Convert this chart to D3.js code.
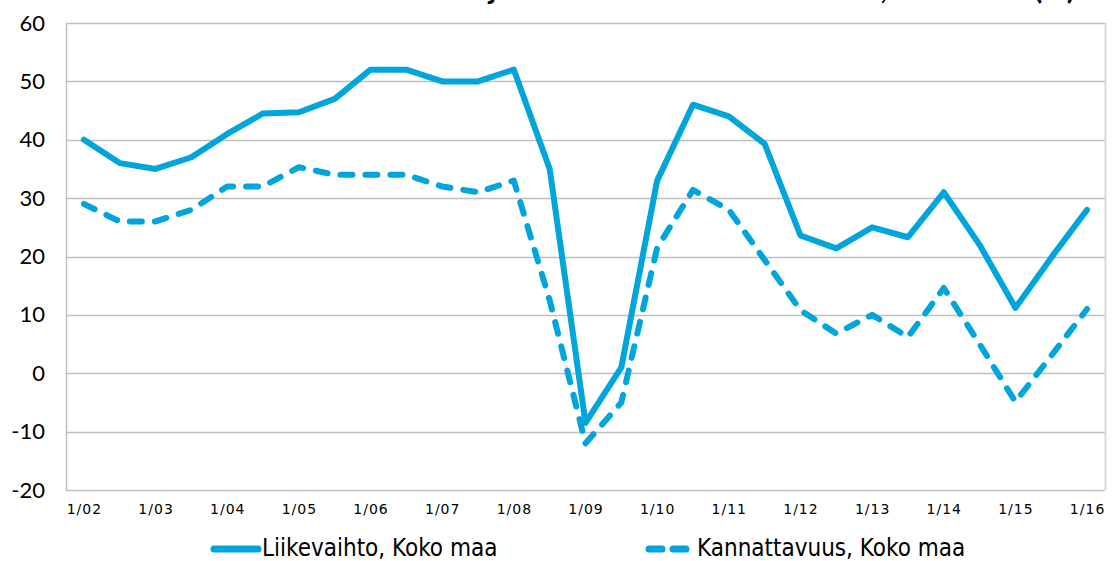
<!DOCTYPE html>
<html>
<head>
<meta charset="utf-8">
<script src="https://cdn.jsdelivr.net/npm/d3@7/dist/d3.min.js"></script>
<style>
  body { margin: 0; background: #fff; }
  svg { display: block; }
</style>
</head>
<body>
<svg id="chart" width="1114" height="561"></svg>
<script>
// half-year periods, 1/02 ... 1/16
const periods = [
  "1/02", "7/02", "1/03", "7/03", "1/04", "7/04", "1/05", "7/05",
  "1/06", "7/06", "1/07", "7/07", "1/08", "7/08", "1/09", "7/09",
  "1/10", "7/10", "1/11", "7/11", "1/12", "7/12", "1/13", "7/13",
  "1/14", "7/14", "1/15", "7/15", "1/16"
];
const liikevaihto = [
  40, 36, 35, 37, 41, 44.5, 44.7, 47,
  52, 52, 50, 50, 52, 35, -8.5, 1,
  33, 46, 44, 39.3, 23.6, 21.4, 25, 23.3,
  31, 22, 11.2, 19.8, 28
];
const kannattavuus = [
  29, 26, 26, 28, 32, 32, 35.3, 34,
  34, 34, 32, 31, 33, 12.5, -12, -5,
  21.5, 31.4, 28, 19.4, 10.8, 6.8, 10, 6.2,
  14.6, 5, -4.9, 3, 11
];
const yTicks = [-20, -10, 0, 10, 20, 30, 40, 50, 60];
const seriesNames = ["Liikevaihto, Koko maa", "Kannattavuus, Koko maa"];
const titleText = "Liikevaihdon ja kannattavuuden saldoluvut, Koko maa (%)";

const blue = "#00a5db";
const gridColor = "#bfbfbf";
const dash = "12,13";

const svg = d3.select("#chart");
const plot = { left: 66, right: 1105, top: 23, bottom: 490 };

const x = d3.scalePoint()
  .domain(periods)
  .range([plot.left, plot.right])
  .padding(0.5);

const y = d3.scaleLinear()
  .domain([-20, 60])
  .range([plot.bottom, plot.top]);

// title, cut off at the top edge of the picture (only descenders show)
svg.append("text")
  .attr("x", 1075)
  .attr("y", -1)
  .attr("text-anchor", "end")
  .attr("font-family", "Lato, sans-serif")
  .attr("font-weight", "bold")
  .attr("font-size", 30)
  .attr("fill", "#000")
  .text(titleText);

// gridlines
svg.append("g")
  .selectAll("line")
  .data(yTicks)
  .join("line")
  .attr("x1", plot.left)
  .attr("x2", plot.right)
  .attr("y1", (d) => Math.round(y(d)) + 0.5)
  .attr("y2", (d) => Math.round(y(d)) + 0.5)
  .attr("stroke", gridColor)
  .attr("stroke-width", 1.5);

// plot frame: left axis and light right border
svg.append("line")
  .attr("x1", plot.left + 0.5).attr("x2", plot.left + 0.5)
  .attr("y1", plot.top).attr("y2", plot.bottom)
  .attr("stroke", gridColor).attr("stroke-width", 1.5);
svg.append("line")
  .attr("x1", plot.right + 0.5).attr("x2", plot.right + 0.5)
  .attr("y1", plot.top).attr("y2", plot.bottom)
  .attr("stroke", "#d9d9d9").attr("stroke-width", 2);

// y axis labels (plain hyphen for negatives, as in the original)
const yAxis = svg.append("g")
  .attr("transform", `translate(${plot.left},0)`)
  .call(d3.axisLeft(y)
    .tickValues(yTicks)
    .tickFormat((d) => String(d))
    .tickSize(0)
    .tickPadding(21));
yAxis.select(".domain").remove();
yAxis.selectAll("text")
  .attr("font-family", "Lato, sans-serif")
  .attr("font-size", 22)
  .attr("fill", "#000");

// x axis labels, one per year
const xAxis = svg.append("g")
  .attr("transform", `translate(0,${plot.bottom})`)
  .call(d3.axisBottom(x)
    .tickValues(periods.filter((p) => p.startsWith("1/")))
    .tickSize(0)
    .tickPadding(14));
xAxis.select(".domain").remove();
xAxis.selectAll("text")
  .attr("font-family", "'DejaVu Sans', sans-serif")
  .attr("font-size", 14)
  .attr("letter-spacing", 1)
  .attr("fill", "#000");

// lines
const line = d3.line()
  .x((d, i) => x(periods[i]))
  .y((d) => y(d));

svg.append("path")
  .datum(kannattavuus)
  .attr("d", line)
  .attr("fill", "none")
  .attr("stroke", blue)
  .attr("stroke-width", 6)
  .attr("stroke-linecap", "round")
  .attr("stroke-linejoin", "round")
  .attr("stroke-dasharray", dash);

svg.append("path")
  .datum(liikevaihto)
  .attr("d", line)
  .attr("fill", "none")
  .attr("stroke", blue)
  .attr("stroke-width", 6)
  .attr("stroke-linecap", "round")
  .attr("stroke-linejoin", "round");

// legend
const legendItems = [
  { name: seriesNames[0], x0: 214, dashed: false, tx: 262 },
  { name: seriesNames[1], x0: 649, dashed: true, tx: 697 }
];
const legend = svg.append("g");
legendItems.forEach((item) => {
  legend.append("line")
    .attr("x1", item.x0).attr("x2", item.x0 + 44)
    .attr("y1", 549).attr("y2", 549)
    .attr("stroke", blue)
    .attr("stroke-width", 7)
    .attr("stroke-linecap", "round")
    .attr("stroke-dasharray", item.dashed ? "13,11" : null);
  legend.append("text")
    .attr("x", item.tx)
    .attr("y", 556)
    .attr("font-family", "'Liberation Sans Narrow', 'DejaVu Sans Condensed', sans-serif")
    .attr("font-size", 24)
    .attr("fill", "#000")
    .text(item.name);
});
</script>
</body>
</html>
